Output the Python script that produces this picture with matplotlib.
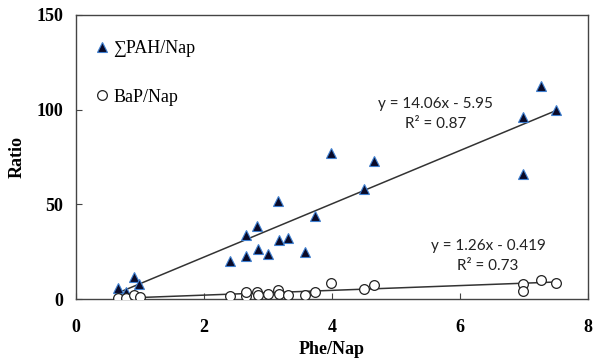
import numpy as np
import matplotlib.pyplot as plt

# Phe/Nap vs sum PAH/Nap
pah_x = [0.66, 0.78, 0.90, 0.98, 2.40, 2.66, 2.66, 2.83, 2.85, 3.00, 3.16,
         3.18, 3.31, 3.58, 3.73, 3.98, 4.50, 4.66, 6.98, 6.98, 7.27, 7.50]
pah_y = [5.8, 4.0, 11.6, 8.0, 20.0, 34.0, 23.0, 38.6, 26.4, 24.0, 52.0,
         31.0, 32.0, 25.0, 44.0, 77.0, 58.0, 73.0, 96.0, 66.0, 112.5, 100.0]

# Phe/Nap vs BaP/Nap
bap_x = [0.66, 0.78, 0.90, 1.00, 2.40, 2.66, 2.66, 2.83, 2.85, 3.00, 3.16,
         3.18, 3.31, 3.58, 3.73, 3.98, 4.50, 4.66, 6.98, 6.98, 7.27, 7.50]
bap_y = [0.5, 0.5, 2.0, 1.0, 1.5, 1.5, 3.5, 3.5, 2.0, 2.5, 5.0,
         2.5, 2.0, 2.0, 3.5, 8.5, 5.5, 7.5, 8.0, 4.5, 10.0, 8.5]

pah_fit = (14.06, -5.95)
bap_fit = (1.26, -0.419)

serif = ['Liberation Serif', 'DejaVu Serif']

fig = plt.figure(figsize=(5.93, 3.63), dpi=100)
ax = fig.add_axes([0.128, 0.176, 0.8636, 0.783])

ax.plot(pah_x, pah_y, linestyle='none', marker='^', markersize=7.5,
        markerfacecolor='#0a0a28', markeredgecolor='#3f7fd0', markeredgewidth=0.8,
        label='∑PAH/Nap', zorder=3)
ax.plot(bap_x, bap_y, linestyle='none', marker='o', markersize=7,
        markerfacecolor='white', markeredgecolor='#222222', markeredgewidth=0.9,
        label='BaP/Nap', zorder=3)

xs = np.array([min(pah_x), max(pah_x)])
ax.plot(xs, pah_fit[0] * xs + pah_fit[1], color='#333333', lw=1.1, zorder=2)
xs = np.array([min(bap_x), max(bap_x)])
ax.plot(xs, bap_fit[0] * xs + bap_fit[1], color='#333333', lw=1.1, zorder=2)

eq_font = dict(family=['Lato', 'DejaVu Sans'], fontsize=11, color='#222222', ha='center')
ax.text(5.62, 101, 'y = 14.06x - 5.95', **eq_font)
ax.text(5.62, 90.5, 'R² = 0.87', **eq_font)
ax.text(6.44, 26, 'y = 1.26x - 0.419', **eq_font)
ax.text(6.44, 15.5, 'R² = 0.73', **eq_font)

ax.set_xlim(0, 8)
ax.set_ylim(0, 150)
ax.set_xticks([0, 2, 4, 6, 8])
ax.set_yticks([0, 50, 100, 150])
ax.tick_params(direction='in', length=4, width=0.8, color='#444444')
ax.tick_params(axis='x', pad=14)
ax.tick_params(axis='y', pad=9)
for lab in ax.get_xticklabels() + ax.get_yticklabels():
    lab.set_family(serif)
    lab.set_fontweight('bold')
    lab.set_fontsize(13)
for s in ax.spines.values():
    s.set_color('#444444')
    s.set_linewidth(1.0)

ax.set_xlabel('Phe/Nap', family=serif, fontweight='bold', fontsize=13, labelpad=4)
ax.set_ylabel('Ratio', family=serif, fontweight='bold', fontsize=13, labelpad=8)

leg = ax.legend(loc='upper left', frameon=False, prop={'family': serif, 'size': 13},
                handlelength=0.6, handletextpad=0.3, labelspacing=1.75,
                bbox_to_anchor=(0.02, 0.95), borderaxespad=0.2)

fig.savefig('out.png', dpi=100)
